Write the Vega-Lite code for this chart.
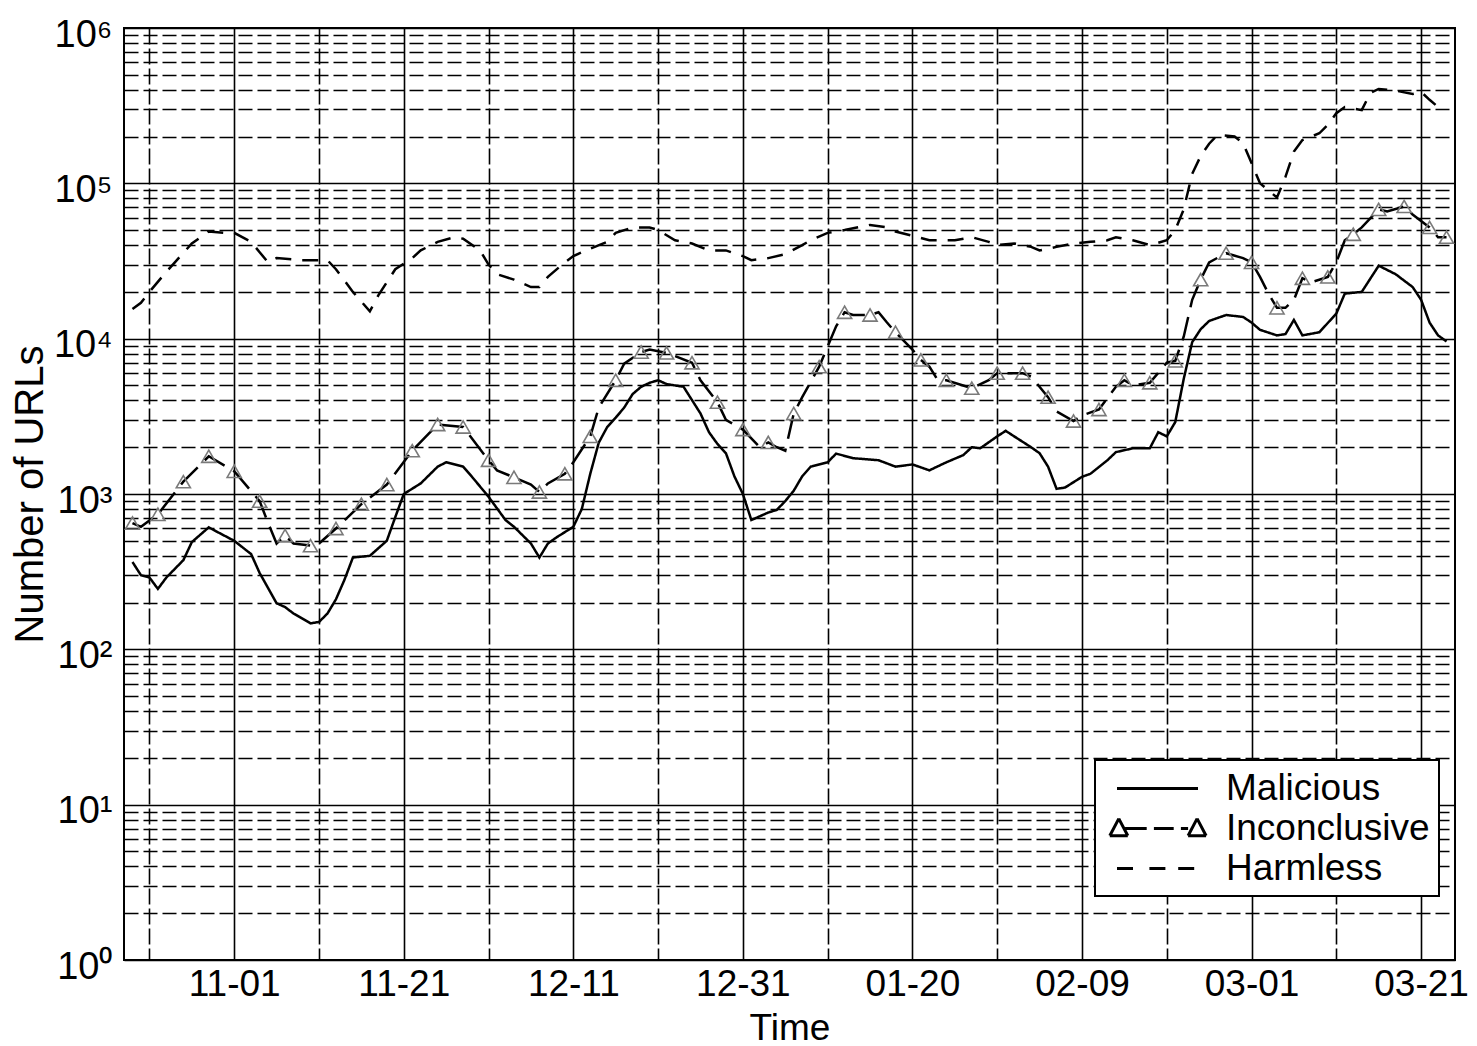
{
"$schema": "https://vega.github.io/schema/vega-lite/v6.json",
"width": 1331,
"height": 932,
"autosize": "none",
"padding": {"left": 124, "top": 28, "right": 22, "bottom": 86},
"background": "white",
"config": {
  "view": {"stroke": "black", "strokeWidth": 2},
  "font": "Liberation Sans",
  "axis": {"gridColor": "black", "gridOpacity": 1, "ticks": false, "domain": false, "labelFlush": false, "labelOverlap": false, "labelColor": "black", "titleColor": "black", "titleFontWeight": "normal", "labelFont": "Liberation Sans", "titleFont": "Liberation Sans"}
},
"data": {"values": [
{"date":"2012-10-20","series":"Malicious","value":365},
{"date":"2012-10-21","series":"Malicious","value":300},
{"date":"2012-10-22","series":"Malicious","value":290},
{"date":"2012-10-23","series":"Malicious","value":245},
{"date":"2012-10-24","series":"Malicious","value":290},
{"date":"2012-10-26","series":"Malicious","value":375},
{"date":"2012-10-27","series":"Malicious","value":490},
{"date":"2012-10-29","series":"Malicious","value":610},
{"date":"2012-10-30","series":"Malicious","value":570},
{"date":"2012-11-01","series":"Malicious","value":500},
{"date":"2012-11-03","series":"Malicious","value":410},
{"date":"2012-11-04","series":"Malicious","value":310},
{"date":"2012-11-06","series":"Malicious","value":198},
{"date":"2012-11-07","series":"Malicious","value":187},
{"date":"2012-11-08","series":"Malicious","value":170},
{"date":"2012-11-10","series":"Malicious","value":147},
{"date":"2012-11-11","series":"Malicious","value":150},
{"date":"2012-11-12","series":"Malicious","value":170},
{"date":"2012-11-13","series":"Malicious","value":210},
{"date":"2012-11-14","series":"Malicious","value":280},
{"date":"2012-11-15","series":"Malicious","value":390},
{"date":"2012-11-17","series":"Malicious","value":400},
{"date":"2012-11-19","series":"Malicious","value":500},
{"date":"2012-11-20","series":"Malicious","value":710},
{"date":"2012-11-21","series":"Malicious","value":1000},
{"date":"2012-11-23","series":"Malicious","value":1170},
{"date":"2012-11-25","series":"Malicious","value":1500},
{"date":"2012-11-26","series":"Malicious","value":1600},
{"date":"2012-11-28","series":"Malicious","value":1500},
{"date":"2012-11-29","series":"Malicious","value":1300},
{"date":"2012-12-01","series":"Malicious","value":960},
{"date":"2012-12-03","series":"Malicious","value":680},
{"date":"2012-12-04","series":"Malicious","value":615},
{"date":"2012-12-06","series":"Malicious","value":480},
{"date":"2012-12-07","series":"Malicious","value":390},
{"date":"2012-12-08","series":"Malicious","value":480},
{"date":"2012-12-09","series":"Malicious","value":525},
{"date":"2012-12-11","series":"Malicious","value":615},
{"date":"2012-12-12","series":"Malicious","value":800},
{"date":"2012-12-13","series":"Malicious","value":1350},
{"date":"2012-12-14","series":"Malicious","value":2140},
{"date":"2012-12-15","series":"Malicious","value":2700},
{"date":"2012-12-16","series":"Malicious","value":3100},
{"date":"2012-12-17","series":"Malicious","value":3600},
{"date":"2012-12-18","series":"Malicious","value":4400},
{"date":"2012-12-19","series":"Malicious","value":4900},
{"date":"2012-12-20","series":"Malicious","value":5200},
{"date":"2012-12-21","series":"Malicious","value":5400},
{"date":"2012-12-22","series":"Malicious","value":5100},
{"date":"2012-12-24","series":"Malicious","value":4900},
{"date":"2012-12-26","series":"Malicious","value":3300},
{"date":"2012-12-27","series":"Malicious","value":2500},
{"date":"2012-12-28","series":"Malicious","value":2100},
{"date":"2012-12-29","series":"Malicious","value":1830},
{"date":"2012-12-30","series":"Malicious","value":1300},
{"date":"2012-12-31","series":"Malicious","value":1000},
{"date":"2013-01-01","series":"Malicious","value":680},
{"date":"2013-01-03","series":"Malicious","value":760},
{"date":"2013-01-04","series":"Malicious","value":790},
{"date":"2013-01-05","series":"Malicious","value":900},
{"date":"2013-01-06","series":"Malicious","value":1050},
{"date":"2013-01-07","series":"Malicious","value":1300},
{"date":"2013-01-08","series":"Malicious","value":1500},
{"date":"2013-01-10","series":"Malicious","value":1600},
{"date":"2013-01-11","series":"Malicious","value":1820},
{"date":"2013-01-13","series":"Malicious","value":1700},
{"date":"2013-01-16","series":"Malicious","value":1650},
{"date":"2013-01-18","series":"Malicious","value":1500},
{"date":"2013-01-20","series":"Malicious","value":1550},
{"date":"2013-01-22","series":"Malicious","value":1420},
{"date":"2013-01-24","series":"Malicious","value":1600},
{"date":"2013-01-26","series":"Malicious","value":1780},
{"date":"2013-01-27","series":"Malicious","value":2000},
{"date":"2013-01-28","series":"Malicious","value":1970},
{"date":"2013-01-30","series":"Malicious","value":2350},
{"date":"2013-01-31","series":"Malicious","value":2550},
{"date":"2013-02-01","series":"Malicious","value":2350},
{"date":"2013-02-03","series":"Malicious","value":2000},
{"date":"2013-02-04","series":"Malicious","value":1830},
{"date":"2013-02-05","series":"Malicious","value":1500},
{"date":"2013-02-06","series":"Malicious","value":1080},
{"date":"2013-02-07","series":"Malicious","value":1100},
{"date":"2013-02-09","series":"Malicious","value":1290},
{"date":"2013-02-10","series":"Malicious","value":1350},
{"date":"2013-02-12","series":"Malicious","value":1650},
{"date":"2013-02-13","series":"Malicious","value":1860},
{"date":"2013-02-15","series":"Malicious","value":1970},
{"date":"2013-02-17","series":"Malicious","value":1970},
{"date":"2013-02-18","series":"Malicious","value":2500},
{"date":"2013-02-19","series":"Malicious","value":2350},
{"date":"2013-02-20","series":"Malicious","value":2900},
{"date":"2013-02-21","series":"Malicious","value":5500},
{"date":"2013-02-22","series":"Malicious","value":9500},
{"date":"2013-02-23","series":"Malicious","value":11500},
{"date":"2013-02-24","series":"Malicious","value":13000},
{"date":"2013-02-26","series":"Malicious","value":14200},
{"date":"2013-02-28","series":"Malicious","value":13800},
{"date":"2013-03-01","series":"Malicious","value":12700},
{"date":"2013-03-02","series":"Malicious","value":11400},
{"date":"2013-03-04","series":"Malicious","value":10500},
{"date":"2013-03-05","series":"Malicious","value":10700},
{"date":"2013-03-06","series":"Malicious","value":13200},
{"date":"2013-03-07","series":"Malicious","value":10500},
{"date":"2013-03-09","series":"Malicious","value":11000},
{"date":"2013-03-11","series":"Malicious","value":14500},
{"date":"2013-03-12","series":"Malicious","value":19500},
{"date":"2013-03-14","series":"Malicious","value":20000},
{"date":"2013-03-16","series":"Malicious","value":29500},
{"date":"2013-03-18","series":"Malicious","value":26000},
{"date":"2013-03-20","series":"Malicious","value":21500},
{"date":"2013-03-21","series":"Malicious","value":17800},
{"date":"2013-03-22","series":"Malicious","value":12700},
{"date":"2013-03-23","series":"Malicious","value":10500},
{"date":"2013-03-24","series":"Malicious","value":9600},
{"date":"2012-10-20","series":"Inconclusive","value":650,"tri":true},
{"date":"2012-10-21","series":"Inconclusive","value":615},
{"date":"2012-10-23","series":"Inconclusive","value":740,"tri":true},
{"date":"2012-10-26","series":"Inconclusive","value":1200,"tri":true},
{"date":"2012-10-29","series":"Inconclusive","value":1750,"tri":true},
{"date":"2012-11-01","series":"Inconclusive","value":1400,"tri":true},
{"date":"2012-11-04","series":"Inconclusive","value":900,"tri":true},
{"date":"2012-11-05","series":"Inconclusive","value":650},
{"date":"2012-11-06","series":"Inconclusive","value":480},
{"date":"2012-11-07","series":"Inconclusive","value":540,"tri":true},
{"date":"2012-11-08","series":"Inconclusive","value":480},
{"date":"2012-11-10","series":"Inconclusive","value":465,"tri":true},
{"date":"2012-11-11","series":"Inconclusive","value":480},
{"date":"2012-11-13","series":"Inconclusive","value":600,"tri":true},
{"date":"2012-11-16","series":"Inconclusive","value":860,"tri":true},
{"date":"2012-11-19","series":"Inconclusive","value":1150,"tri":true},
{"date":"2012-11-22","series":"Inconclusive","value":1900,"tri":true},
{"date":"2012-11-25","series":"Inconclusive","value":2800,"tri":true},
{"date":"2012-11-28","series":"Inconclusive","value":2700,"tri":true},
{"date":"2012-12-01","series":"Inconclusive","value":1650,"tri":true},
{"date":"2012-12-02","series":"Inconclusive","value":1420},
{"date":"2012-12-04","series":"Inconclusive","value":1280,"tri":true},
{"date":"2012-12-06","series":"Inconclusive","value":1150},
{"date":"2012-12-07","series":"Inconclusive","value":1030,"tri":true},
{"date":"2012-12-08","series":"Inconclusive","value":1170},
{"date":"2012-12-10","series":"Inconclusive","value":1350,"tri":true},
{"date":"2012-12-11","series":"Inconclusive","value":1600},
{"date":"2012-12-13","series":"Inconclusive","value":2350,"tri":true},
{"date":"2012-12-14","series":"Inconclusive","value":3600},
{"date":"2012-12-16","series":"Inconclusive","value":5400,"tri":true},
{"date":"2012-12-17","series":"Inconclusive","value":6900},
{"date":"2012-12-19","series":"Inconclusive","value":8200,"tri":true},
{"date":"2012-12-20","series":"Inconclusive","value":8500},
{"date":"2012-12-22","series":"Inconclusive","value":8100,"tri":true},
{"date":"2012-12-25","series":"Inconclusive","value":7000,"tri":true},
{"date":"2012-12-26","series":"Inconclusive","value":5400},
{"date":"2012-12-28","series":"Inconclusive","value":3900,"tri":true},
{"date":"2012-12-29","series":"Inconclusive","value":3000},
{"date":"2012-12-31","series":"Inconclusive","value":2600,"tri":true},
{"date":"2013-01-02","series":"Inconclusive","value":2000},
{"date":"2013-01-03","series":"Inconclusive","value":2150,"tri":true},
{"date":"2013-01-04","series":"Inconclusive","value":2000},
{"date":"2013-01-05","series":"Inconclusive","value":1900},
{"date":"2013-01-06","series":"Inconclusive","value":3300,"tri":true},
{"date":"2013-01-07","series":"Inconclusive","value":4200},
{"date":"2013-01-09","series":"Inconclusive","value":6600,"tri":true},
{"date":"2013-01-10","series":"Inconclusive","value":8900},
{"date":"2013-01-11","series":"Inconclusive","value":12000},
{"date":"2013-01-12","series":"Inconclusive","value":14800,"tri":true},
{"date":"2013-01-13","series":"Inconclusive","value":14200},
{"date":"2013-01-15","series":"Inconclusive","value":14200,"tri":true},
{"date":"2013-01-16","series":"Inconclusive","value":14800},
{"date":"2013-01-17","series":"Inconclusive","value":12700},
{"date":"2013-01-18","series":"Inconclusive","value":11000,"tri":true},
{"date":"2013-01-20","series":"Inconclusive","value":8500},
{"date":"2013-01-21","series":"Inconclusive","value":7300,"tri":true},
{"date":"2013-01-22","series":"Inconclusive","value":6600},
{"date":"2013-01-23","series":"Inconclusive","value":5400},
{"date":"2013-01-24","series":"Inconclusive","value":5400,"tri":true},
{"date":"2013-01-27","series":"Inconclusive","value":4800,"tri":true},
{"date":"2013-01-29","series":"Inconclusive","value":5400},
{"date":"2013-01-30","series":"Inconclusive","value":6000,"tri":true},
{"date":"2013-02-02","series":"Inconclusive","value":6000,"tri":true},
{"date":"2013-02-03","series":"Inconclusive","value":5700},
{"date":"2013-02-05","series":"Inconclusive","value":4200,"tri":true},
{"date":"2013-02-06","series":"Inconclusive","value":3400},
{"date":"2013-02-08","series":"Inconclusive","value":2950,"tri":true},
{"date":"2013-02-09","series":"Inconclusive","value":3200},
{"date":"2013-02-11","series":"Inconclusive","value":3500,"tri":true},
{"date":"2013-02-13","series":"Inconclusive","value":4900},
{"date":"2013-02-14","series":"Inconclusive","value":5400,"tri":true},
{"date":"2013-02-15","series":"Inconclusive","value":5000},
{"date":"2013-02-17","series":"Inconclusive","value":5200,"tri":true},
{"date":"2013-02-19","series":"Inconclusive","value":7000},
{"date":"2013-02-20","series":"Inconclusive","value":7200,"tri":true},
{"date":"2013-02-21","series":"Inconclusive","value":10300},
{"date":"2013-02-22","series":"Inconclusive","value":17800},
{"date":"2013-02-23","series":"Inconclusive","value":24000,"tri":true},
{"date":"2013-02-24","series":"Inconclusive","value":31000},
{"date":"2013-02-26","series":"Inconclusive","value":35500,"tri":true},
{"date":"2013-02-28","series":"Inconclusive","value":33000},
{"date":"2013-03-01","series":"Inconclusive","value":31000,"tri":true},
{"date":"2013-03-02","series":"Inconclusive","value":25000},
{"date":"2013-03-03","series":"Inconclusive","value":19500},
{"date":"2013-03-04","series":"Inconclusive","value":15800,"tri":true},
{"date":"2013-03-05","series":"Inconclusive","value":15800},
{"date":"2013-03-06","series":"Inconclusive","value":17800},
{"date":"2013-03-07","series":"Inconclusive","value":24500,"tri":true},
{"date":"2013-03-08","series":"Inconclusive","value":23000},
{"date":"2013-03-10","series":"Inconclusive","value":25000,"tri":true},
{"date":"2013-03-11","series":"Inconclusive","value":31000},
{"date":"2013-03-12","series":"Inconclusive","value":43000},
{"date":"2013-03-13","series":"Inconclusive","value":47000,"tri":true},
{"date":"2013-03-14","series":"Inconclusive","value":52000},
{"date":"2013-03-16","series":"Inconclusive","value":68000,"tri":true},
{"date":"2013-03-17","series":"Inconclusive","value":66000},
{"date":"2013-03-19","series":"Inconclusive","value":71000,"tri":true},
{"date":"2013-03-20","series":"Inconclusive","value":63000},
{"date":"2013-03-22","series":"Inconclusive","value":52000,"tri":true},
{"date":"2013-03-23","series":"Inconclusive","value":45000},
{"date":"2013-03-24","series":"Inconclusive","value":45000,"tri":true},
{"date":"2012-10-20","series":"Harmless","value":15500},
{"date":"2012-10-21","series":"Harmless","value":17000},
{"date":"2012-10-22","series":"Harmless","value":20000},
{"date":"2012-10-24","series":"Harmless","value":27000},
{"date":"2012-10-25","series":"Harmless","value":31000},
{"date":"2012-10-27","series":"Harmless","value":41000},
{"date":"2012-10-29","series":"Harmless","value":49000},
{"date":"2012-10-31","series":"Harmless","value":48000},
{"date":"2012-11-01","series":"Harmless","value":48000},
{"date":"2012-11-03","series":"Harmless","value":42000},
{"date":"2012-11-04","series":"Harmless","value":36000},
{"date":"2012-11-05","series":"Harmless","value":31000},
{"date":"2012-11-06","series":"Harmless","value":33000},
{"date":"2012-11-09","series":"Harmless","value":32000},
{"date":"2012-11-12","series":"Harmless","value":32000},
{"date":"2012-11-13","series":"Harmless","value":28000},
{"date":"2012-11-15","series":"Harmless","value":20000},
{"date":"2012-11-17","series":"Harmless","value":15000},
{"date":"2012-11-18","series":"Harmless","value":19000},
{"date":"2012-11-20","series":"Harmless","value":28000},
{"date":"2012-11-22","series":"Harmless","value":33000},
{"date":"2012-11-23","series":"Harmless","value":37000},
{"date":"2012-11-25","series":"Harmless","value":42000},
{"date":"2012-11-27","series":"Harmless","value":45000},
{"date":"2012-11-28","series":"Harmless","value":44000},
{"date":"2012-11-30","series":"Harmless","value":37000},
{"date":"2012-12-01","series":"Harmless","value":30000},
{"date":"2012-12-02","series":"Harmless","value":26000},
{"date":"2012-12-04","series":"Harmless","value":24000},
{"date":"2012-12-06","series":"Harmless","value":21500},
{"date":"2012-12-07","series":"Harmless","value":21500},
{"date":"2012-12-08","series":"Harmless","value":25000},
{"date":"2012-12-10","series":"Harmless","value":31000},
{"date":"2012-12-11","series":"Harmless","value":34000},
{"date":"2012-12-13","series":"Harmless","value":38000},
{"date":"2012-12-15","series":"Harmless","value":42000},
{"date":"2012-12-16","series":"Harmless","value":48000},
{"date":"2012-12-18","series":"Harmless","value":52000},
{"date":"2012-12-20","series":"Harmless","value":52000},
{"date":"2012-12-21","series":"Harmless","value":50000},
{"date":"2012-12-23","series":"Harmless","value":43000},
{"date":"2012-12-25","series":"Harmless","value":41000},
{"date":"2012-12-27","series":"Harmless","value":37000},
{"date":"2012-12-29","series":"Harmless","value":37000},
{"date":"2012-12-31","series":"Harmless","value":34000},
{"date":"2013-01-01","series":"Harmless","value":32000},
{"date":"2013-01-03","series":"Harmless","value":33000},
{"date":"2013-01-05","series":"Harmless","value":35000},
{"date":"2013-01-07","series":"Harmless","value":40000},
{"date":"2013-01-08","series":"Harmless","value":43000},
{"date":"2013-01-10","series":"Harmless","value":48000},
{"date":"2013-01-12","series":"Harmless","value":50000},
{"date":"2013-01-15","series":"Harmless","value":54000},
{"date":"2013-01-17","series":"Harmless","value":52000},
{"date":"2013-01-18","series":"Harmless","value":49000},
{"date":"2013-01-20","series":"Harmless","value":46000},
{"date":"2013-01-22","series":"Harmless","value":43000},
{"date":"2013-01-25","series":"Harmless","value":43000},
{"date":"2013-01-27","series":"Harmless","value":45000},
{"date":"2013-01-29","series":"Harmless","value":42000},
{"date":"2013-01-30","series":"Harmless","value":40000},
{"date":"2013-02-01","series":"Harmless","value":41000},
{"date":"2013-02-03","series":"Harmless","value":39000},
{"date":"2013-02-04","series":"Harmless","value":37000},
{"date":"2013-02-06","series":"Harmless","value":39000},
{"date":"2013-02-08","series":"Harmless","value":41000},
{"date":"2013-02-10","series":"Harmless","value":42000},
{"date":"2013-02-12","series":"Harmless","value":43000},
{"date":"2013-02-13","series":"Harmless","value":45000},
{"date":"2013-02-15","series":"Harmless","value":43000},
{"date":"2013-02-17","series":"Harmless","value":40000},
{"date":"2013-02-19","series":"Harmless","value":43000},
{"date":"2013-02-20","series":"Harmless","value":50000},
{"date":"2013-02-21","series":"Harmless","value":68000},
{"date":"2013-02-22","series":"Harmless","value":115000},
{"date":"2013-02-23","series":"Harmless","value":150000},
{"date":"2013-02-24","series":"Harmless","value":180000},
{"date":"2013-02-25","series":"Harmless","value":205000},
{"date":"2013-02-27","series":"Harmless","value":200000},
{"date":"2013-02-28","series":"Harmless","value":181000},
{"date":"2013-03-01","series":"Harmless","value":135000},
{"date":"2013-03-02","series":"Harmless","value":100000},
{"date":"2013-03-03","series":"Harmless","value":90000},
{"date":"2013-03-04","series":"Harmless","value":81000},
{"date":"2013-03-05","series":"Harmless","value":110000},
{"date":"2013-03-06","series":"Harmless","value":160000},
{"date":"2013-03-07","series":"Harmless","value":190000},
{"date":"2013-03-09","series":"Harmless","value":210000},
{"date":"2013-03-10","series":"Harmless","value":238000},
{"date":"2013-03-11","series":"Harmless","value":283000},
{"date":"2013-03-12","series":"Harmless","value":310000},
{"date":"2013-03-14","series":"Harmless","value":296000},
{"date":"2013-03-15","series":"Harmless","value":381000},
{"date":"2013-03-16","series":"Harmless","value":405000},
{"date":"2013-03-18","series":"Harmless","value":395000},
{"date":"2013-03-20","series":"Harmless","value":376000},
{"date":"2013-03-21","series":"Harmless","value":388000},
{"date":"2013-03-22","series":"Harmless","value":345000},
{"date":"2013-03-23","series":"Harmless","value":310000}
]},
"layer": [
  {
    "mark": {"type": "line", "stroke": "black", "strokeWidth": 2.5},
    "encoding": {
      "x": {"field": "date", "type": "temporal",
        "scale": {"type": "utc", "domain": [{"year": 2012, "month": 10, "date": 19, "utc": true}, {"year": 2013, "month": 3, "date": 25, "utc": true}]},
        "axis": {"orient": "bottom", "title": "Time",
          "labelExpr": "utcFormat(datum.value, '%m-%d')",
          "values": [
            {"year": 2012, "month": 11, "date": 1, "utc": true},
            {"year": 2012, "month": 11, "date": 21, "utc": true},
            {"year": 2012, "month": 12, "date": 11, "utc": true},
            {"year": 2012, "month": 12, "date": 31, "utc": true},
            {"year": 2013, "month": 1, "date": 20, "utc": true},
            {"year": 2013, "month": 2, "date": 9, "utc": true},
            {"year": 2013, "month": 3, "date": 1, "utc": true},
            {"year": 2013, "month": 3, "date": 21, "utc": true}],
          "grid": true, "gridWidth": 1.6, "labelFontSize": 37, "labelPadding": 6, "labelBaseline": "top",
          "titleFontSize": 37, "titleY": 68, "titleBaseline": "middle"}},
      "y": {"field": "value", "type": "quantitative",
        "scale": {"type": "log", "domain": [1, 1000000]},
        "axis": {"orient": "left", "title": "Number of URLs", "values": [1, 10, 100, 1000, 10000, 100000, 1000000],
          "labelExpr": "'10' + ['⁰','¹','²','³','⁴','⁵','⁶'][round(log(datum.value)/LN10)]",
          "grid": true, "gridWidth": 1.6, "labelFontSize": 38, "labelPadding": 12, "labelOffset": 7,
          "titleFontSize": 40, "titleX": -94, "titleY": 466, "titleAlign": "center", "titleBaseline": "middle", "titleAngle": 270}},
      "strokeDash": {"field": "series", "type": "nominal",
        "scale": {"domain": ["Malicious", "Inconclusive", "Harmless"], "range": [[1, 0], [24, 10], [16, 11]]},
        "legend": {"orient": "none", "legendX": 971, "legendY": 732, "title": null,
          "labelFont": "Liberation Sans", "labelFontSize": 37, "labelColor": "black", "labelLimit": 0,
          "symbolSize": 1296, "symbolStrokeWidth": 3, "symbolStrokeColor": "black", "symbolType": "stroke",
          "symbolOffset": 34, "labelOffset": 49, "padding": 9, "rowPadding": 2,
          "strokeColor": "black", "fillColor": "white", "cornerRadius": 0,
          "encode": {
            "legend": {"update": {"strokeWidth": {"value": 2}}},
            "symbols": {"update": {
              "shape": {"signal": "datum.value === 'Malicious' ? 'M-2.25,0H2.25' : (datum.value === 'Inconclusive' ? 'M-2.15,-0.55L-2.65,0.4M-2.65,0.4L-1.65,0.4M-1.65,0.4L-2.15,-0.55M-1.8,0H-0.6M-0.2,0H0.9M1.3,0H1.7M2.2,-0.55L1.7,0.4M1.7,0.4L2.7,0.4M2.7,0.4L2.2,-0.55' : 'M-2.25,0H-1M-0.45,0H0.55M1.15,0H2.25')"},
              "strokeDash": {"value": [1, 0]},
              "fill": {"value": "transparent"},
              "stroke": {"value": "black"},
              "strokeWidth": {"value": 3}}}}}}
    }
  },
  {
    "transform": [{"filter": "datum.tri === true"}],
    "mark": {"type": "point", "shape": "triangle-up", "size": 200, "filled": false, "stroke": "#7a7a7a", "strokeWidth": 1.6, "opacity": 1},
    "encoding": {
      "x": {"field": "date", "type": "temporal",
        "axis": {"orient": "bottom", "title": null, "labels": false,
          "values": [
            {"year": 2012, "month": 10, "date": 22, "utc": true},
            {"year": 2012, "month": 11, "date": 11, "utc": true},
            {"year": 2012, "month": 12, "date": 1, "utc": true},
            {"year": 2012, "month": 12, "date": 21, "utc": true},
            {"year": 2013, "month": 1, "date": 10, "utc": true},
            {"year": 2013, "month": 1, "date": 30, "utc": true},
            {"year": 2013, "month": 2, "date": 19, "utc": true},
            {"year": 2013, "month": 3, "date": 11, "utc": true}],
          "grid": true, "gridWidth": 1.6, "gridDash": [16, 4]}},
      "y": {"field": "value", "type": "quantitative",
        "axis": {"orient": "left", "title": null, "labels": false,
          "values": [2,3,4,5,6,7,8,9,20,30,40,50,60,70,80,90,200,300,400,500,600,700,800,900,2000,3000,4000,5000,6000,7000,8000,9000,20000,30000,40000,50000,60000,70000,80000,90000,200000,300000,400000,500000,600000,700000,800000,900000],
          "grid": true, "gridWidth": 1.6, "gridDash": [14, 5]}}
    }
  }
],
"resolve": {"axis": {"x": "independent", "y": "independent"}}
}
